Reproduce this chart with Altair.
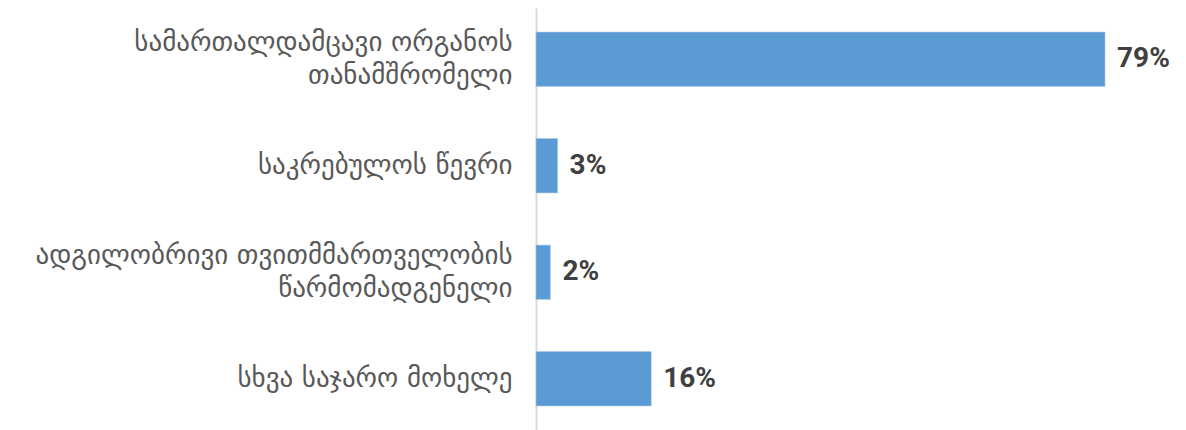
import altair as alt
import pandas as pd

categories = [
    "სამართალდამცავი ორგანოს|თანამშრომელი",
    "საკრებულოს წევრი",
    "ადგილობრივი თვითმმართველობის|წარმომადგენელი",
    "სხვა საჯარო მოხელე",
]
values = [79, 3, 2, 16]
value_labels = ["79%", "3%", "2%", "16%"]

df = pd.DataFrame({"cat": categories, "val": values, "lab": value_labels})

y_axis = alt.Axis(
    title=None,
    ticks=False,
    grid=False,
    domain=True,
    domainColor="#D9D9D9",
    domainWidth=2,
    labelFont="DejaVu Sans",
    labelFontSize=27,
    labelColor="#595959",
    labelPadding=24,
    labelLimit=600,
    labelLineHeight=33,
    labelExpr="split(datum.label, '|')",
    labelOffset={
        "condition": {"test": "indexof(datum.value, '|') >= 0", "value": -16},
        "value": 0,
    },
)

y_scale = alt.Scale(paddingInner=0.49, paddingOuter=0.226)
x_enc = alt.X("val:Q", scale=alt.Scale(domain=[0, 79], nice=False), axis=None)

bars = alt.Chart(df).mark_bar(color="#5B9BD5", stroke="#A9C8EA", strokeWidth=0.6).encode(
    y=alt.Y("cat:N", sort=categories, scale=y_scale, axis=y_axis), x=x_enc
)

texts = alt.Chart(df).mark_text(
    align="left",
    baseline="middle",
    dx=12,
    font="Roboto",
    fontWeight="bold",
    fontSize=28,
    color="#404040",
).encode(
    y=alt.Y("cat:N", sort=categories, scale=y_scale),
    x=x_enc,
    text="lab:N",
)

chart = (
    alt.layer(bars, texts)
    .properties(
        width=569,
        height=422,
        background="white",
        autosize=alt.AutoSizeParams(type="none"),
        padding={"left": 528, "top": 0, "right": 66, "bottom": 0},
    )
    .configure_view(strokeWidth=0, stroke="transparent")
)

chart.save("out.html", embed_options={"renderer": "svg", "actions": False})
